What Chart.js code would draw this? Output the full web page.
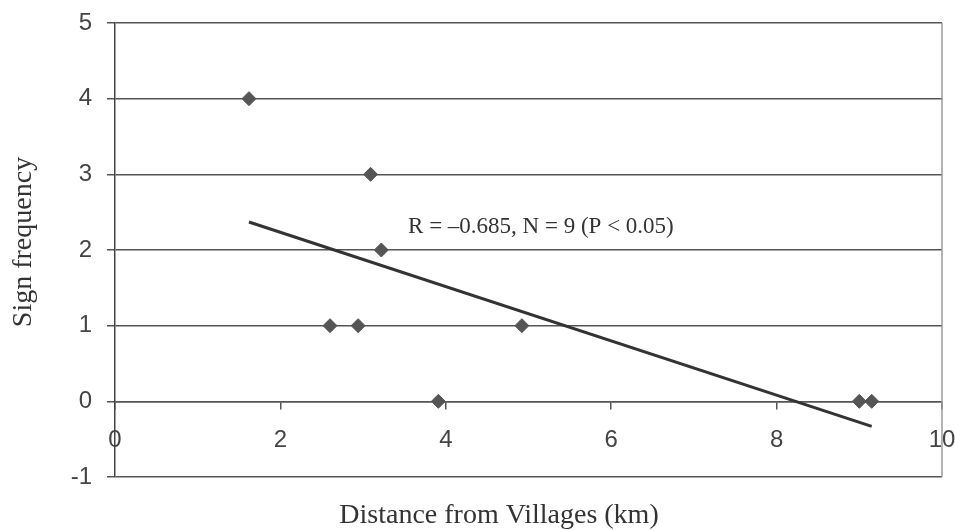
<!DOCTYPE html>
<html>
<head>
<meta charset="utf-8">
<script src="https://cdn.jsdelivr.net/npm/chart.js@4.4.1/dist/chart.umd.min.js"></script>
<style>
  html, body { margin: 0; padding: 0; background: #ffffff; }
  #wrap { width: 955px; height: 530px; position: relative; }
</style>
</head>
<body>
<div id="wrap"><canvas id="c" width="955" height="530"></canvas></div>
<script>
// ---- data ----
const distanceKm = [1.62, 3.09, 3.22, 2.60, 2.94, 4.92, 3.91, 9.00, 9.15];
const signFrequency = [4, 3, 2, 1, 1, 1, 0, 0, 0];
const trendX = [1.62, 9.15];
const trendY = [2.37, -0.33];
const xTitle = 'Distance from Villages (km)';
const yTitle = 'Sign frequency';
const statText = 'R = \u20130.685, N = 9 (P < 0.05)';

const pointData = distanceKm.map((x, i) => ({ x: x, y: signFrequency[i] }));
const trendData = trendX.map((x, i) => ({ x: x, y: trendY[i] }));

const SERIF = '"Liberation Serif", "Times New Roman", serif';

const extras = {
  id: 'extras',
  afterDraw(chart) {
    const ctx = chart.ctx;
    const a = chart.chartArea;
    ctx.save();
    // right border of plot area
    ctx.strokeStyle = '#9a9a9a';
    ctx.lineWidth = 1.5;
    ctx.beginPath();
    ctx.moveTo(a.right, a.top);
    ctx.lineTo(a.right, a.bottom);
    ctx.stroke();
    // statistic annotation
    const xs = chart.scales.x, ys = chart.scales.y;
    ctx.fillStyle = '#333333';
    ctx.font = '23px ' + SERIF;
    ctx.textAlign = 'center';
    ctx.textBaseline = 'middle';
    ctx.fillText(statText, xs.getPixelForValue(5.15), ys.getPixelForValue(2.31));
    // x axis title
    ctx.font = '28px ' + SERIF;
    ctx.textBaseline = 'alphabetic';
    ctx.fillText(xTitle, 499, 523);
    // y axis title
    ctx.translate(31, 242);
    ctx.rotate(-Math.PI / 2);
    ctx.fillText(yTitle, 0, 0);
    ctx.restore();
  }
};

new Chart(document.getElementById('c'), {
  type: 'scatter',
  data: {
    datasets: [
      {
        label: 'Signs',
        data: pointData,
        pointStyle: 'rectRot',
        pointRadius: 7,
        pointBackgroundColor: '#555555',
        pointBorderColor: '#555555',
        pointBorderWidth: 1,
        showLine: false,
        order: 1
      },
      {
        label: 'Trend',
        data: trendData,
        showLine: true,
        borderColor: '#333333',
        borderWidth: 3,
        pointRadius: 0,
        fill: false,
        order: 0
      }
    ]
  },
  options: {
    responsive: false,
    animation: false,
    layout: { padding: { left: 0, right: 13, top: 23, bottom: 53 } },
    plugins: {
      legend: { display: false },
      tooltip: { enabled: false }
    },
    scales: {
      x: {
        type: 'linear',
        min: 0,
        max: 10,
        position: { y: 0 },
        afterFit(scale) { scale.paddingLeft = 0; scale.paddingRight = 0; },
        ticks: {
          stepSize: 2,
          color: '#444444',
          font: { family: '"Liberation Sans", Arial, sans-serif', size: 24 },
          padding: 18,
          maxRotation: 0
        },
        grid: {
          drawOnChartArea: false,
          drawTicks: true,
          tickLength: 7,
          color: '#555555',
          lineWidth: 1.5
        },
        border: { display: true, color: '#555555', width: 1.5 }
      },
      y: {
        type: 'linear',
        min: -1,
        max: 5,
        afterFit(scale) { scale.width = 115; scale.paddingTop = 0; scale.paddingBottom = 0; },
        ticks: {
          stepSize: 1,
          color: '#444444',
          font: { family: '"Liberation Sans", Arial, sans-serif', size: 24 },
          padding: 15
        },
        grid: {
          color: '#555555',
          lineWidth: 1.5,
          tickLength: 8
        },
        border: { display: true, color: '#444444', width: 1.5 },
        title: { display: false }
      }
    }
  },
  plugins: [extras]
});
</script>
</body>
</html>
